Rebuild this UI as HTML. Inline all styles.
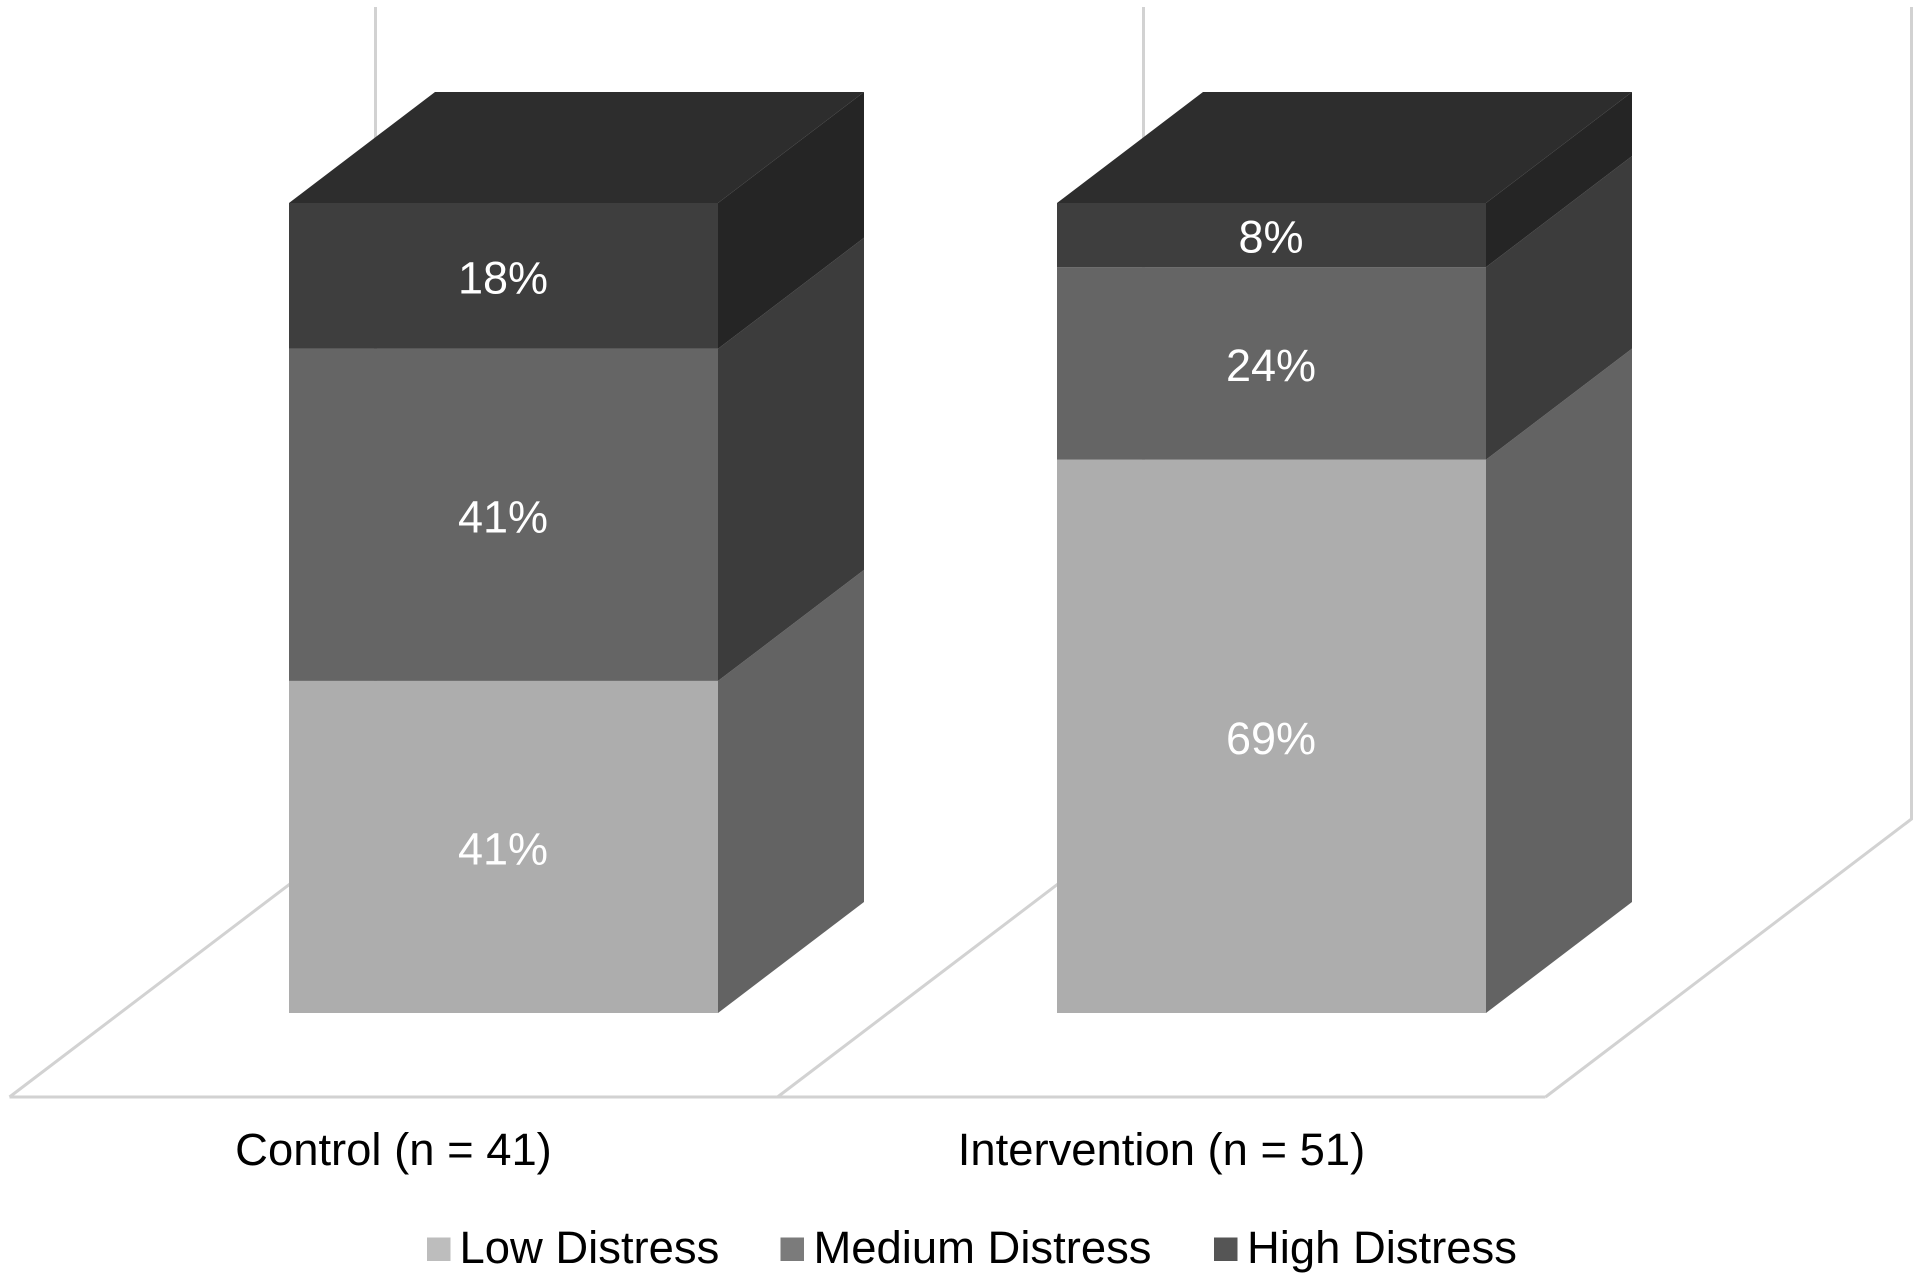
<!DOCTYPE html>
<html lang="en">
<head>
<meta charset="utf-8">
<title>Distress levels by group</title>
<style>
html,body{margin:0;padding:0;background:#fff;width:1920px;height:1280px;overflow:hidden}
svg{display:block}
text{font-family:"Liberation Sans",Arial,sans-serif;font-size:45px}
.legend-text{font-size:45.4px}
</style>
</head>
<body>
<svg id="chart" xmlns="http://www.w3.org/2000/svg" width="1920" height="1280" viewBox="0 0 1920 1280">
  <rect width="1920" height="1280" fill="#ffffff"/>
  <g id="walls"></g>
  <g id="bars"></g>
  <g id="cats"></g>
  <g>
    <g>
      <rect x="427" y="1237.5" width="23.5" height="23.5" fill="#bdbdbd"/>
      <text class="legend-text" x="459.5" y="1263" fill="#000">Low Distress</text>
    </g>
    <g>
      <rect x="780.5" y="1237.5" width="23.5" height="23.5" fill="#7b7b7b"/>
      <text class="legend-text" x="813.5" y="1263" fill="#000">Medium Distress</text>
    </g>
    <g>
      <rect x="1214" y="1237.5" width="23.5" height="23.5" fill="#555555"/>
      <text class="legend-text" x="1247" y="1263" fill="#000">High Distress</text>
    </g>
  </g>
</svg>
<script>
const categories = ['Control (n = 41)', 'Intervention (n = 51)'];
const seriesNames = ['Low Distress', 'Medium Distress', 'High Distress'];
const lowDistress = [41, 69];
const mediumDistress = [41, 24];
const highDistress = [18, 8];

const NS = 'http://www.w3.org/2000/svg';
const series = [lowDistress, mediumDistress, highDistress];
const frontFill = ['#adadad', '#656565', '#3e3e3e'];
const sideFill = ['#636363', '#3c3c3c', '#252525'];
const topFill = '#2d2d2d';
const gridColor = '#d2d2d2';

const plotBase = 1013, plotHeight = 810;
const depthX = 146, depthY = 111;
const firstLeft = 289, barWidth = 429, step = 768;
const floorFrontLeft = 9.5, floorFrontY = 1097, wallTop = 7;
const wallDepthX = 366, wallDepthY = 278;

function xBand(i) { return firstLeft + i * step; }
function yScale(cumulative, total) { return plotBase - (cumulative / total) * plotHeight; }
function pts(list) { return list.map(function (p) { return p[0] + ',' + p[1]; }).join(' '); }
function make(tag, attrs, parent) {
  const el = document.createElementNS(NS, tag);
  Object.keys(attrs).forEach(function (k) { el.setAttribute(k, attrs[k]); });
  parent.appendChild(el);
  return el;
}

const walls = document.getElementById('walls');
const bars = document.getElementById('bars');
const cats = document.getElementById('cats');

const gridStyle = { stroke: gridColor, 'stroke-width': 3, fill: 'none' };
const floorFront = make('line', Object.assign({ x1: floorFrontLeft, y1: floorFrontY, x2: floorFrontLeft + categories.length * step, y2: floorFrontY }, gridStyle), walls);



for (let i = 0; i <= categories.length; i++) {
  const fx = floorFrontLeft + i * step;
  const bx = fx + wallDepthX;
  const by = floorFrontY - wallDepthY;
  const wall = make('polyline', Object.assign({ points: pts([[fx, floorFrontY], [bx, by], [bx, wallTop]]) }, gridStyle), walls);
  
  
}

categories.forEach(function (cat, i) {
  const x0 = xBand(i), x1 = x0 + barWidth;
  let total = 0;
  series.forEach(function (s) { total += s[i]; });
  let cum = 0;
  const group = make('g', {}, bars);
  
  

  series.forEach(function (s, k) {
    const yBottom = yScale(cum, total);
    cum += s[i];
    const yTop = yScale(cum, total);

    const side = make('polygon', {
      points: pts([[x1, yBottom], [x1 + depthX, yBottom - depthY], [x1 + depthX, yTop - depthY], [x1, yTop]]),
      fill: sideFill[k]
    }, group);
    
    

    const front = make('rect', {
      x: x0, y: yTop, width: barWidth, height: yBottom - yTop, fill: frontFill[k]
    }, group);
    
    

    const label = make('text', {
      x: x0 + barWidth / 2 - 0.5, y: (yTop + yBottom) / 2 + 17.5, fill: '#ffffff', 'text-anchor': 'middle'
    }, group);
    label.textContent = s[i] + '%';
    
    
  });

  const yTopAll = yScale(cum, total);
  const lid = make('polygon', {
    points: pts([[x0, yTopAll], [x0 + depthX, yTopAll - depthY], [x1 + depthX, yTopAll - depthY], [x1, yTopAll]]),
    fill: topFill
  }, group);
  
  

  const catLabel = make('text', {
    x: floorFrontLeft + (i + 0.5) * step, y: 1165, fill: '#000000', 'text-anchor': 'middle', style: 'font-size:45.4px'
  }, cats);
  catLabel.textContent = cat;
  
  
});
</script>
</body>
</html>
